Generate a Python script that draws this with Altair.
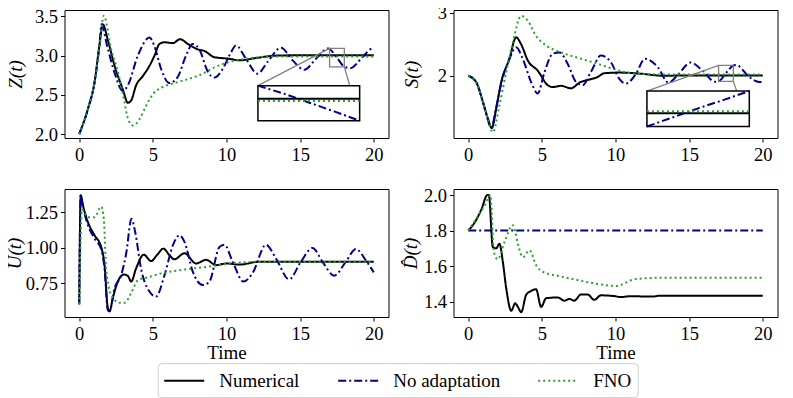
import altair as alt
import pandas as pd

SERIES = ["Numerical", "No adaptation", "FNO"]
COLORS = ["#000000", "#00008b", "#2ca02c"]
DASHES = [[1, 0], [8, 3, 2, 3], [2, 3]]
FONT = "Liberation Serif"
X_TICKS = [0, 5, 10, 15, 20]
X_DOM = [-1, 21]
W, H = 324, 128

# ---------------- Z(t) ----------------
z_num_t = [0, 0.59, 1.04, 1.37, 1.6, 1.94, 2.4, 2.96, 3.3, 3.53, 3.86, 4.32, 4.77, 5.11, 5.45, 5.79,
           6.36, 6.85, 7.37, 8.05, 8.5, 9.18, 10.2, 10.87, 12.0, 13.35, 15, 17, 20]
z_num = [2.0, 2.32, 2.66, 3.13, 3.40, 3.20, 2.87, 2.57, 2.40, 2.43, 2.62, 2.74, 2.87, 3.0, 3.15, 3.17,
         3.16, 3.21, 3.15, 3.08, 3.06, 2.98, 2.96, 2.94, 2.97, 3.0, 3.005, 3.005, 3.005]
z_noad_t = [0, 0.59, 1.04, 1.37, 1.51, 1.9, 2.4, 2.96, 3.3, 3.98, 4.77, 5.11, 5.56, 6.12, 6.69, 7.25,
            7.7, 8.16, 8.72, 9.18, 9.74, 10.3, 10.64, 11.32, 12.1, 12.79, 13.7, 14.49, 15.28, 16.07,
            16.9, 17.5, 18.0, 18.4, 19.23, 19.9, 20]
z_noad = [2.0, 2.32, 2.66, 3.13, 3.40, 3.12, 2.78, 2.55, 2.62, 3.0, 3.23, 3.12, 2.83, 2.65, 2.73, 3.0,
          3.15, 3.08, 2.80, 2.72, 2.83, 3.04, 3.13, 2.96, 2.77, 2.92, 3.10, 2.94, 2.82, 2.96,
          3.092, 2.975, 2.858, 2.84, 2.98, 3.09, 3.08]
z_fno_t = [0, 0.59, 1.04, 1.37, 1.67, 2.17, 2.51, 2.85, 3.07, 3.3, 3.64, 4.09, 4.54, 5.0, 5.56, 6.46,
           7.37, 8.27, 9.18, 10.2, 11.32, 13.35, 20]
z_fno = [2.0, 2.32, 2.66, 3.10, 3.51, 3.08, 2.87, 2.62, 2.41, 2.20, 2.11, 2.19, 2.36, 2.51, 2.59, 2.65,
         2.70, 2.76, 2.85, 2.92, 2.96, 2.99, 2.99]

# ---------------- S(t) ----------------
s_num_t = [0, 0.54, 0.99, 1.33, 1.6, 1.9, 2.24, 2.8, 3.25, 3.59, 4.05, 4.72, 5.4, 5.74, 6.3, 6.98,
           7.55, 8.23, 8.79, 9.24, 10.26, 11.84, 13.2, 15, 20]
s_num = [2.0, 1.90, 1.59, 1.33, 1.17, 1.48, 1.90, 2.27, 2.61, 2.50, 2.24, 2.08, 1.85, 1.82, 1.84, 1.80,
         1.89, 1.94, 1.98, 2.04, 2.05, 2.03, 2.0, 2.005, 2.005]
s_noad_t = [0, 0.54, 0.99, 1.33, 1.56, 1.9, 2.24, 2.8, 3.25, 3.7, 4.27, 4.72, 5.17, 5.74, 6.19, 6.75,
            7.32, 7.77, 8.33, 9.01, 9.7, 10.26, 10.71, 11.39, 12.0, 12.86, 13.6, 14.22, 15.1, 15.92,
            16.75, 17.0, 17.5, 18.0, 18.2, 19.08, 19.76, 20]
s_noad = [2.0, 1.90, 1.59, 1.30, 1.17, 1.50, 1.875, 2.27, 2.45, 2.27, 1.90, 1.72, 2.05, 2.35, 2.37, 2.19,
          1.90, 1.85, 2.06, 2.32, 2.21, 1.95, 1.875, 2.03, 2.27, 2.14, 1.89, 2.01, 2.21, 2.08,
          1.905, 1.911, 2.04, 2.163, 2.17, 1.98, 1.90, 1.90]
s_fno_t = [0, 0.54, 0.99, 1.33, 1.67, 2.12, 2.58, 3.03, 3.59, 4.05, 4.61, 5.29, 6.3, 7.66, 8.79,
           10.26, 11.39, 13.4, 20]
s_fno = [2.0, 1.90, 1.59, 1.32, 1.105, 1.53, 2.06, 2.53, 2.95, 2.87, 2.63, 2.48, 2.37, 2.27, 2.19,
         2.08, 2.03, 2.02, 2.02]

# ---------------- U(t) ----------------
u_num_t = [0, 0.1, 0.25, 0.59, 1.04, 1.49, 1.72, 1.94, 2.06, 2.28, 2.62, 3.03, 3.3, 3.53, 3.86, 4.38,
           4.88, 5.3, 5.72, 6.1, 6.46, 7.15, 7.93, 8.61, 9.29, 10.0, 10.87, 12.2, 20]
u_num = [0.6, 1.37, 1.30, 1.18, 1.087, 1.005, 0.876, 0.573, 0.55, 0.643, 0.76, 0.81, 0.80, 0.76, 0.853,
         0.95, 0.905, 0.95, 0.993, 0.95, 0.918, 0.96, 0.888, 0.914, 0.876, 0.888, 0.88, 0.9, 0.9]
u_noad_t = [0, 0.1, 0.25, 0.59, 1.04, 1.49, 1.72, 1.94, 2.06, 2.39, 2.85, 3.19, 3.55, 3.8, 4.2, 4.7,
            5.22, 5.79, 6.36, 6.8, 7.15, 7.71, 8.39, 8.84, 9.52, 9.86, 10.42, 11.15, 11.77, 12.68,
            13.35, 14.25, 15.05, 15.84, 16.52, 17.31, 18.1, 18.79, 19.46, 20]
u_noad = [0.6, 1.37, 1.29, 1.16, 1.064, 0.99, 0.85, 0.56, 0.55, 0.71, 0.806, 0.96, 1.204, 1.11, 0.85,
          0.70, 0.654, 0.806, 1.017, 1.087, 1.04, 0.83, 0.736, 0.76, 1.005, 1.02, 0.9, 0.76, 0.82,
          1.02, 0.925, 0.776, 0.9, 0.998, 0.9, 0.802, 0.9, 0.99, 0.91, 0.825]
u_fno_t = [0, 0.19, 0.59, 1.04, 1.49, 1.67, 1.83, 2.17, 2.73, 3.07, 3.53, 3.98, 4.66, 5.56, 6.46,
           7.37, 8.72, 10.2, 12.2, 20]
u_fno = [0.6, 1.27, 1.215, 1.215, 1.29, 1.2, 0.85, 0.666, 0.61, 0.61, 0.68, 0.77, 0.79, 0.818, 0.835,
         0.848, 0.865, 0.888, 0.9, 0.9]

# ---------------- D-hat(t) ----------------
d_num_t = [0, 0.45, 0.9, 1.3, 1.4, 1.67, 1.9, 2.12, 2.35, 2.58, 2.92, 3.19, 3.37, 3.6, 3.93, 4.27,
           4.61, 4.95, 5.29, 6.08, 6.53, 6.87, 7.2, 7.66, 8.1, 8.56, 9.01, 10.0, 10.3, 11, 12.5, 13, 20]
d_num = [1.8, 1.847, 1.92, 2.0, 2.0, 1.707, 1.70, 1.726, 1.624, 1.475, 1.348, 1.39, 1.37, 1.34, 1.437,
         1.46, 1.469, 1.37, 1.419, 1.423, 1.405, 1.415, 1.405, 1.44, 1.44, 1.41, 1.435, 1.43, 1.425,
         1.43, 1.428, 1.433, 1.433]
d_noad_t = [0, 20]
d_noad = [1.8, 1.8]
d_fno_t = [0, 0.54, 1.11, 1.52, 1.6, 1.74, 2.01, 2.46, 3.03, 3.2, 3.37, 3.71, 4.16, 4.61, 5.06, 6.08,
           7.43, 8.79, 10.0, 11.39, 13, 20]
d_fno = [1.8, 1.866, 1.94, 2.0, 1.9, 1.68, 1.638, 1.735, 1.83, 1.79, 1.726, 1.65, 1.689, 1.605, 1.568,
         1.545, 1.521, 1.499, 1.488, 1.527, 1.534, 1.534]

# ---------------- insets (zoom on t in [17, 18]) ----------------
ins_t = [17, 17.25, 17.5, 17.75, 18]
ins1_num = [3.005, 3.005, 3.005, 3.005, 3.005]
ins1_noad = [3.092, 3.04, 2.98, 2.92, 2.858]
ins1_fno = [2.99, 2.99, 2.99, 2.99, 2.99]
ins1_box = [17, 18, 2.858, 3.092]          # t0, t1, ylo, yhi
ins2_num = [2.005, 2.005, 2.005, 2.005, 2.005]
ins2_noad = [1.911, 1.975, 2.04, 2.10, 2.163]
ins2_fno = [2.02, 2.02, 2.02, 2.02, 2.02]
ins2_box = [17, 18, 1.911, 2.163]
# inset axes position as fractions of the plot area: x0, x1, y_top, y_bottom (from top)
ins1_pos = [0.597, 0.911, 0.591, 0.865]
ins2_pos = [0.597, 0.913, 0.633, 0.91]

# legend layout (pixels, relative to the lower-left panel's plot area)
LEG_BOX = [93.7, 573.7, 174.7, 208.7]
LEG_SYM_X = [99.7, 273.7, 473.7]
LEG_SYM_LEN = 40
LEG_LABEL_GAP = 15

ONE = pd.DataFrame({"k": [0]})


def long_df(parts):
    rows = []
    for name, (ts, vs) in zip(SERIES, parts):
        for t, v in zip(ts, vs):
            rows.append({"t": t, "v": v, "series": name})
    return pd.DataFrame(rows)


color = alt.Color("series:N", scale=alt.Scale(domain=SERIES, range=COLORS), legend=None)
dash = alt.StrokeDash("series:N", scale=alt.Scale(domain=SERIES, range=DASHES), legend=None)


def legend_layers():
    x0, x1, y0, y1 = LEG_BOX
    cy = (y0 + y1) / 2
    layers = [alt.Chart(ONE).mark_rect(fill="white", stroke="#cccccc", strokeWidth=1, cornerRadius=4).encode(
        x=alt.value(x0), x2=alt.value(x1), y=alt.value(y0), y2=alt.value(y1))]
    for name, col, dsh, sx in zip(SERIES, COLORS, DASHES, LEG_SYM_X):
        layers.append(alt.Chart(ONE).mark_rule(color=col, strokeDash=dsh, strokeWidth=2).encode(
            x=alt.value(sx), x2=alt.value(sx + LEG_SYM_LEN), y=alt.value(cy)))
        layers.append(alt.Chart(ONE).mark_text(text=name, align="left", baseline="middle", font=FONT,
                                               fontSize=19, color="black").encode(
            x=alt.value(sx + LEG_SYM_LEN + LEG_LABEL_GAP), y=alt.value(cy)))
    return layers


def panel(parts, ydom, yticks, yfmt, ytitle, xtitle, ext, tpad, inset=None, legend=False):
    df = long_df(parts)
    if xtitle:
        x_axis = alt.Axis(values=X_TICKS, format="d", title=xtitle, titlePadding=1)
    else:
        x_axis = alt.Axis(values=X_TICKS, format="d", title=None)
    x = alt.X("t:Q", scale=alt.Scale(domain=X_DOM, nice=False, zero=False), axis=x_axis)
    y = alt.Y("v:Q", scale=alt.Scale(domain=ydom, nice=False, zero=False),
              axis=alt.Axis(values=yticks, format=yfmt, title=ytitle, titleFontStyle="italic",
                            titlePadding=tpad, minExtent=ext, maxExtent=ext))
    lines = alt.Chart(df).mark_line(strokeWidth=2, interpolate="monotone").encode(
        x=x, y=y, color=color, strokeDash=dash)
    if inset is None:
        if legend:
            return alt.layer(lines, *legend_layers()).properties(width=W, height=H)
        return lines.properties(width=W, height=H)

    box, pos, ivals = inset
    t0, t1, lo, hi = box
    rect_df = pd.DataFrame({"t": [t0], "t2": [t1], "v": [lo], "v2": [hi]})
    zoom = alt.Chart(rect_df).mark_rect(fillOpacity=0, stroke="#808080", strokeWidth=1.3).encode(
        x=x, x2="t2", y=y, y2="v2")
    main = alt.layer(lines, zoom)

    px0, px1 = pos[0] * W, pos[1] * W
    py_top, py_bot = pos[2] * H, pos[3] * H
    ix = alt.X("t:Q", scale=alt.Scale(domain=[t0, t1], range=[px0, px1], nice=False, zero=False), axis=None)
    iy = alt.Y("v:Q", scale=alt.Scale(domain=[lo, hi], range=[py_bot, py_top], nice=False, zero=False), axis=None)
    frame = alt.Chart(rect_df).mark_rect(fill="white", stroke="black", strokeWidth=1.5).encode(
        x=ix, x2="t2", y=iy, y2="v2")
    ins_df = long_df([(ins_t, ivals[0]), (ins_t, ivals[1]), (ins_t, ivals[2])])
    ins_lines = alt.Chart(ins_df).mark_line(strokeWidth=2).encode(x=ix, y=iy, color=color, strokeDash=dash)
    ins = alt.layer(frame, ins_lines)

    def sx(t):
        return (t - X_DOM[0]) / (X_DOM[1] - X_DOM[0]) * W

    def sy(v):
        return (ydom[1] - v) / (ydom[1] - ydom[0]) * H

    c1 = alt.Chart(ONE).mark_rule(color="#808080", strokeWidth=1.3).encode(
        x=alt.value(px0), y=alt.value(py_top), x2=alt.value(sx(t0)), y2=alt.value(sy(hi)))
    c2 = alt.Chart(ONE).mark_rule(color="#808080", strokeWidth=1.3).encode(
        x=alt.value(px1), y=alt.value(py_bot), x2=alt.value(sx(t1)), y2=alt.value(sy(lo)))
    return alt.layer(main, c1, c2, ins).resolve_scale(x="independent", y="independent").properties(width=W, height=H)


p1 = panel([(z_num_t, z_num), (z_noad_t, z_noad), (z_fno_t, z_fno)], [1.95, 3.582], [2.0, 2.5, 3.0, 3.5], ".1f",
           "Z(t)", None, 33, 6, (ins1_box, ins1_pos, [ins1_num, ins1_noad, ins1_fno]))
p2 = panel([(s_num_t, s_num), (s_noad_t, s_noad), (s_fno_t, s_fno)], [1.013, 3.042], [1, 2, 3], "d",
           "S(t)", None, 28, 4, (ins2_box, ins2_pos, [ins2_num, ins2_noad, ins2_fno]))
p3 = panel([(u_num_t, u_num), (u_noad_t, u_noad), (u_fno_t, u_fno)], [0.51, 1.414], [0.75, 1.0, 1.25], ".2f",
           "U(t)", "Time", 33, 7, legend=True)
p4 = panel([(d_num_t, d_num), (d_noad_t, d_noad), (d_fno_t, d_fno)], [1.313, 2.034], [1.4, 1.6, 1.8, 2.0], ".1f",
           "D\u0302(t)", "Time", 28, 5)

chart = alt.concat(
    p1, p2, p3, p4, columns=2, bounds="flush", spacing={"row": 51, "column": 65}
).properties(
    padding={"left": -3.5, "top": -5, "right": 5, "bottom": 0}
).configure_view(
    stroke="black", strokeWidth=1
).configure_axis(
    labelFont=FONT, labelFontSize=18.5, labelColor="black",
    titleFont=FONT, titleFontSize=19, titleFontWeight="normal", titleColor="black",
    tickColor="black", tickSize=4, tickWidth=1, domain=False, grid=False, labelPadding=3
)

chart.save("out.html", embed_options={"renderer": "svg", "actions": False})
